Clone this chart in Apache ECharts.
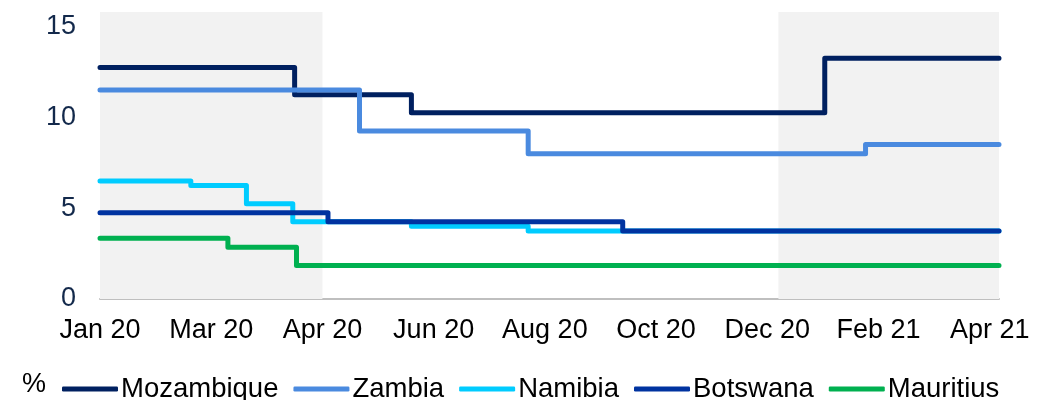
<!DOCTYPE html>
<html>
<head>
<meta charset="utf-8">
<script src="https://cdn.jsdelivr.net/npm/echarts@6/dist/echarts.min.js"></script>
<style>
  html, body { margin: 0; padding: 0; background: #fff; }
  #chart { width: 1056px; height: 400px; }
</style>
</head>
<body>
<div id="chart"></div>
<script>
// policy rates, % (date of change, new rate)
var mozambique = [["2020-01-01", 12.75], ["2020-04-15", 11.25], ["2020-06-17", 10.25], ["2021-01-26", 13.25], ["2021-04-30", 13.25]];
var zambia = [["2020-01-01", 11.5], ["2020-05-20", 9.25], ["2020-08-19", 8], ["2021-02-17", 8.5], ["2021-04-30", 8.5]];
var namibia = [["2020-01-01", 6.5], ["2020-02-19", 6.25], ["2020-03-20", 5.25], ["2020-04-14", 4.25], ["2020-06-17", 4.0], ["2020-08-19", 3.75], ["2021-04-30", 3.75]];
var botswana = [["2020-01-01", 4.75], ["2020-05-03", 4.25], ["2020-10-09", 3.75], ["2021-04-30", 3.75]];
var mauritius = [["2020-01-01", 3.35], ["2020-03-10", 2.85], ["2020-04-16", 1.85], ["2021-04-30", 1.85]];
var shaded = [["2020-01-01", "2020-04-30"], ["2021-01-01", "2021-04-30"]];
var yTicks = [0, 5, 10, 15];
var months = ["Jan", "Feb", "Mar", "Apr", "May", "Jun", "Jul", "Aug", "Sep", "Oct", "Nov", "Dec"];

var START = Date.UTC(2020, 0, 1);
function toDay(s) {
  var p = s.split("-");
  return (Date.UTC(+p[0], +p[1] - 1, +p[2]) - START) / 864e5;
}
function pts(arr) {
  return arr.map(function (d) { return [toDay(d[0]), d[1]]; });
}

var chart = echarts.init(document.getElementById("chart"));

function lineSeries(name, data, color) {
  return {
    name: name,
    type: "line",
    step: "end",
    symbol: "none",
    z: 3,
    data: pts(data),
    lineStyle: { color: color, width: 5, cap: "round", join: "round" },
    itemStyle: { color: color },
  };
}

var options = {
  animation: false,
  textStyle: { fontFamily: "Liberation Sans, Arial, sans-serif" },
  grid: { left: 100, right: 57, top: 12, bottom: 101 },
  graphic: [
    {
      type: "text",
      left: 22,
      top: 371,
      style: { text: "%", fontSize: 27, fill: "#000", fontFamily: "Liberation Sans" },
    },
  ],
  legend: {
    left: 57,
    top: 370,
    itemWidth: 56,
    itemHeight: 5,
    itemGap: 15,
    icon: "roundRect",
    data: ["Mozambique", "Zambia", "Namibia", "Botswana", "Mauritius"],
    textStyle: { color: "#000", fontSize: 27.5, padding: [0, 0, 0, -2] },
  },
  xAxis: {
    type: "value",
    min: 0,
    max: toDay("2021-04-30"),
    interval: 60,
    splitLine: { show: false },
    axisTick: { show: false },
    axisLine: { show: true, onZero: false, lineStyle: { color: "#BFBFBF", width: 2 } },
    axisLabel: {
      color: "#000",
      fontSize: 27,
      margin: 18,
      showMaxLabel: false,
      formatter: function (v) {
        var d = new Date(START + v * 864e5);
        return months[d.getUTCMonth()] + " " + String(d.getUTCFullYear()).slice(2);
      },
    },
  },
  yAxis: {
    type: "value",
    min: yTicks[0],
    max: 15.8,
    interval: 5,
    splitLine: { show: false },
    axisTick: { show: false },
    axisLine: { show: false },
    axisLabel: {
      color: "#13294B",
      fontSize: 27,
      margin: 24,
      showMaxLabel: false,
    },
  },
  series: [
    {
      name: "shade",
      type: "line",
      data: [],
      z: 1,
      silent: true,
      markArea: {
        silent: true,
        itemStyle: { color: "#F2F2F2" },
        data: shaded.map(function (s) {
          return [{ xAxis: toDay(s[0]) }, { xAxis: toDay(s[1]) }];
        }),
      },
    },
    lineSeries("Mozambique", mozambique, "#002060"),
    lineSeries("Zambia", zambia, "#4A8ADF"),
    lineSeries("Namibia", namibia, "#00CCFF"),
    lineSeries("Botswana", botswana, "#0033A0"),
    lineSeries("Mauritius", mauritius, "#00B050"),
  ],
};
chart.setOption(options);
</script>
</body>
</html>
